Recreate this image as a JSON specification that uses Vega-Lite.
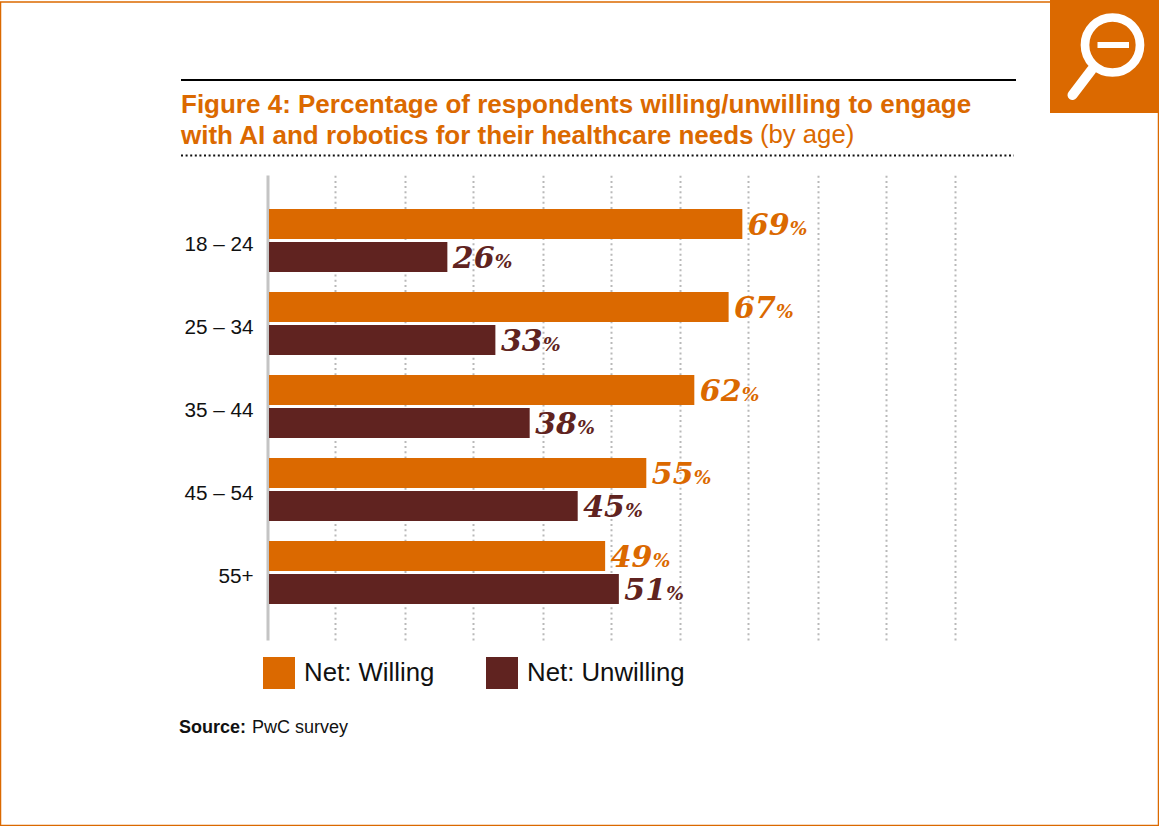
{
"$schema":"https://vega.github.io/schema/vega-lite/v6.json",
"autosize":{"type":"none"},
"padding":{"left":269,"top":175,"right":204,"bottom":186},
"width":686,"height":465,
"background":"#ffffff",
"config":{"view":{"stroke":null},"font":"Liberation Sans"},
"title":{"text":["Figure 4: Percentage of respondents willing/unwilling to engage","with AI and robotics for their healthcare needs"],"anchor":"start","frame":"group","align":"left","dx":-88,"offset":-149,"fontSize":26,"lineHeight":31,"fontWeight":"bold","color":"#DB6900","font":"Liberation Sans"},
"data":{"values":[
{"age":"18 – 24","group":"Net: Willing","value":69},
{"age":"18 – 24","group":"Net: Unwilling","value":26},
{"age":"25 – 34","group":"Net: Willing","value":67},
{"age":"25 – 34","group":"Net: Unwilling","value":33},
{"age":"35 – 44","group":"Net: Willing","value":62},
{"age":"35 – 44","group":"Net: Unwilling","value":38},
{"age":"45 – 54","group":"Net: Willing","value":55},
{"age":"45 – 54","group":"Net: Unwilling","value":45},
{"age":"55+","group":"Net: Willing","value":49},
{"age":"55+","group":"Net: Unwilling","value":51}
]},
"encoding":{
"y":{"field":"age","type":"nominal","sort":null,"title":null,"scale":{"paddingInner":0,"paddingOuter":0.3,"align":0.48},
"axis":{"domainColor":"#c4c4c4","domainWidth":3,"ticks":false,"offset":1.5,"labelPadding":14.5,"labelOffset":4.5,"labelFontSize":20.7,"labelColor":"#111111","labelFont":"Liberation Sans","grid":false}},
"yOffset":{"field":"group","type":"nominal","sort":["Net: Willing","Net: Unwilling"],"scale":{"paddingInner":0.0909,"paddingOuter":0.303}},
"x":{"field":"value","type":"quantitative","title":null,"scale":{"domain":[0,100],"nice":false},
"axis":{"values":[9.65,19.85,29.8,39.9,49.85,59.9,69.85,80,89.95,100],"domain":false,"ticks":false,"labels":false,"grid":true,"gridColor":"#b9b9b9","gridWidth":2,"gridDash":[2,3.2]}}
},
"layer":[
{"mark":{"type":"bar"},"encoding":{"color":{"field":"group","type":"nominal","sort":["Net: Willing","Net: Unwilling"],"scale":{"domain":["Net: Willing","Net: Unwilling"],"range":["#DB6900","#602320"]},
"legend":{"title":null,"orient":"none","legendX":-6,"legendY":482,"direction":"horizontal","columns":2,"symbolType":"square","symbolSize":1024,"symbolStrokeWidth":0,"symbolOpacity":1,"labelFontSize":25.8,"labelColor":"#111111","labelFont":"Liberation Sans","labelOffset":9,"columnPadding":51,"labelLimit":300}}}},
{"mark":{"type":"text","align":"left","baseline":"middle","dx":5.5,"dy":2,"font":"DejaVu Serif","fontStyle":"italic","fontWeight":"bold","fontSize":30},"encoding":{"text":{"field":"value","type":"quantitative","format":".0f"},"color":{"field":"group","type":"nominal","legend":null}}},
{"mark":{"type":"text","align":"left","baseline":"middle","dx":47.5,"dy":5,"font":"DejaVu Serif","fontStyle":"italic","fontWeight":"bold","fontSize":18.5},"encoding":{"text":{"value":"%"},"color":{"field":"group","type":"nominal","legend":null}}},
{"data":{"values":[{"part":"frame"}]},"mark":{"type":"rect","fill":"transparent","stroke":"#DB6900","strokeWidth":1.5},"encoding":{"x":{"value":-268.5},"x2":{"value":889.5},"y":{"value":-173},"y2":{"value":650.5},"yOffset":{"value":0}}},
{"data":{"values":[{"part":"icon"}]},"mark":{"type":"rect","fill":"#DB6900"},"encoding":{"x":{"value":781},"x2":{"value":890},"y":{"value":-175},"y2":{"value":-62},"yOffset":{"value":0}}},
{"data":{"values":[{"part":"lens"}]},"mark":{"type":"point","shape":"circle","filled":false,"stroke":"#ffffff","strokeWidth":8.7,"opacity":1,"size":3025},"encoding":{"x":{"value":843.5},"y":{"value":-130},"yOffset":{"value":0}}},
{"data":{"values":[{"part":"handle"}]},"mark":{"type":"rule","stroke":"#ffffff","strokeWidth":10,"strokeCap":"round"},"encoding":{"x":{"value":822.5},"x2":{"value":803.5},"y":{"value":-105},"y2":{"value":-80},"yOffset":{"value":0}}},
{"data":{"values":[{"part":"minus"}]},"mark":{"type":"rule","stroke":"#ffffff","strokeWidth":6},"encoding":{"x":{"value":828.5},"x2":{"value":860},"y":{"value":-130},"yOffset":{"value":0}}},
{"data":{"values":[{"part":"top rule"}]},"mark":{"type":"rule","stroke":"#000000","strokeWidth":2},"encoding":{"x":{"value":-88},"x2":{"value":747},"y":{"value":-95},"yOffset":{"value":0}}},
{"data":{"values":[{"part":"dotted rule"}]},"mark":{"type":"rule","stroke":"#111111","strokeWidth":2,"strokeDash":[2,2.6]},"encoding":{"x":{"value":-88},"x2":{"value":745},"y":{"value":-19.5},"yOffset":{"value":0}}},
{"data":{"values":[{"note":"(by age)"}]},"mark":{"type":"text","align":"left","baseline":"alphabetic","fontSize":25.7,"color":"#DB6900","font":"Liberation Sans"},"encoding":{"text":{"field":"note"},"x":{"value":491},"y":{"value":-32},"yOffset":{"value":0}}},
{"data":{"values":[{"note":"Source:"}]},"mark":{"type":"text","align":"left","baseline":"alphabetic","fontSize":18,"fontWeight":"bold","color":"#111111","font":"Liberation Sans"},"encoding":{"text":{"field":"note"},"x":{"value":-90},"y":{"value":558},"yOffset":{"value":0}}},
{"data":{"values":[{"note":"PwC survey"}]},"mark":{"type":"text","align":"left","baseline":"alphabetic","fontSize":18,"color":"#111111","font":"Liberation Sans"},"encoding":{"text":{"field":"note"},"x":{"value":-17},"y":{"value":558},"yOffset":{"value":0}}}
],
"resolve":{"scale":{"color":"shared"}}
}
